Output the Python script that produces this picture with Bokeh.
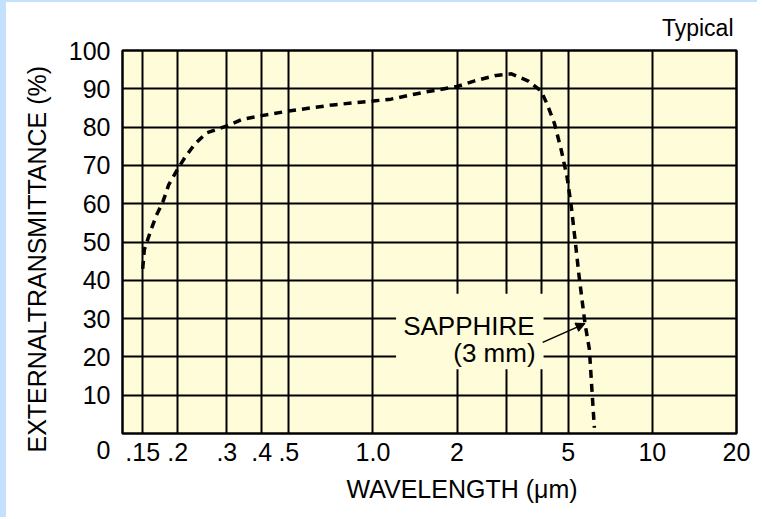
import math
from bokeh.plotting import figure
from bokeh.models import (Range1d, FixedTicker, Label, Arrow, NormalHead,
                          BoxAnnotation, Title)
from bokeh.embed import file_html
from bokeh.resources import INLINE

# ---- data ----
wavelength_um = [0.15, 0.152, 0.161, 0.168, 0.177, 0.186, 0.2, 0.212, 0.23,
                 0.254, 0.3, 0.34, 0.4, 0.5, 0.72, 1.0, 1.16, 1.5, 2.0, 2.3,
                 2.76, 3.13, 3.6, 4.0, 4.2, 4.46, 4.72, 4.95, 5.12, 5.3,
                 5.46, 5.74, 5.95, 6.07, 6.2]
transmittance = [43, 48, 53.4, 57, 60.4, 65, 69, 72, 75.5,
                 78.5, 80.3, 82, 83, 84.2, 85.8, 86.8, 87.3, 89, 90.6, 92,
                 93.5, 93.9, 92, 89.4, 86, 81, 74, 67, 59.6, 50,
                 41.4, 28.7, 22, 12, 1.5]

x_tick_values = [0.15, 0.2, 0.3, 0.4, 0.5, 1, 2, 5, 10, 20]
x_tick_labels = [".15", ".2", ".3", ".4", ".5", "1.0", "2", "5", "10", "20"]
x_grid_values = [0.15, 0.2, 0.3, 0.4, 0.5, 1, 2, 3, 4, 5, 10, 20]
y_tick_values = [0, 10, 20, 30, 40, 50, 60, 70, 80, 90, 100]
y_grid_values = [10, 20, 30, 40, 50, 60, 70, 80, 90, 100]

FONT = "Liberation Sans"
BG = "#FFFCD9"
BLUE = "#C4E0FF"

p = figure(width=757, height=517, x_axis_type="log",
           x_range=Range1d(0.127, 20), y_range=Range1d(0, 100),
           output_backend="svg", toolbar_location=None,
           min_border_left=115, min_border_right=27,
           min_border_top=45, min_border_bottom=86)
p.styles = {"border-left": f"6px solid {BLUE}", "border-top": f"2px solid {BLUE}"}
p.background_fill_color = BG
p.border_fill_color = "white"
p.outline_line_color = "black"
p.outline_line_width = 2.5

# "Typical" as the figure title, top right
p.title.text = "Typical"
p.title.align = "right"
p.title.text_font = FONT
p.title.text_font_size = "23px"
p.title.text_font_style = "normal"
p.title.text_color = "black"
p.title.offset = 3
p.title.standoff = 20

# axes
for ax in (p.xaxis[0], p.yaxis[0]):
    ax.axis_line_color = None
    ax.major_tick_line_color = None
    ax.minor_tick_line_color = None
    ax.major_tick_out = 0
    ax.major_tick_in = 0
    ax.major_label_text_font = FONT
    ax.major_label_text_font_size = "25px"
    ax.major_label_text_color = "black"

p.xaxis.ticker = FixedTicker(ticks=x_tick_values)
p.xaxis.major_label_overrides = {v: s for v, s in zip(x_tick_values, x_tick_labels)}
p.xaxis.major_label_standoff = 9
p.yaxis.ticker = FixedTicker(ticks=y_tick_values)
p.yaxis.major_label_standoff = 12
# the reference sets its "0" a little below the zero line
p.yaxis.major_label_overrides = {0: "\n0"}

# axis titles (placed as titles so they can be offset like the reference)
p.add_layout(Title(text="WAVELENGTH (\u03bcm)", align="left", offset=224,
                   text_font=FONT, text_font_size="25px", text_color="black",
                   text_font_style="normal", standoff=18), "below")
p.add_layout(Title(text="EXTERNALTRANSMITTANCE (%)", align="left", offset=-19,
                   text_font=FONT, text_font_size="25px", text_color="black",
                   text_font_style="normal", standoff=29), "left")

# grid
p.xgrid.ticker = FixedTicker(ticks=x_grid_values)
p.ygrid.ticker = FixedTicker(ticks=y_grid_values)
for g in (p.xgrid[0], p.ygrid[0]):
    g.grid_line_color = "black"
    g.grid_line_width = 2
    g.grid_line_alpha = 1

# curve
p.line(wavelength_um, transmittance, line_color="black", line_width=3.5,
       line_dash="8 6")

# background patch behind the annotation text
p.add_layout(BoxAnnotation(left=1.21, right=4.08, bottom=16.8, top=36.5,
                           fill_color=BG, fill_alpha=1, line_color=None))

def lab(text, x, y, align="left", baseline="alphabetic", size="26px", **kw):
    p.add_layout(Label(x=x, y=y, text=text, text_align=align,
                       text_baseline=baseline, text_font=FONT,
                       text_font_size=size, text_color="black", **kw))

lab("SAPPHIRE", 3.79, 28.0, align="right")
lab("(3 mm)", 3.82, 21.0, align="right")

idx = 31  # point of the curve at ~29 %
p.add_layout(Arrow(end=NormalHead(size=9, fill_color="black", line_color="black"),
                   x_start=4.05, y_start=23.8,
                   x_end=wavelength_um[idx], y_end=transmittance[idx],
                   line_color="black", line_width=1.5))

open("out.html", "w").write(file_html(p, INLINE))
